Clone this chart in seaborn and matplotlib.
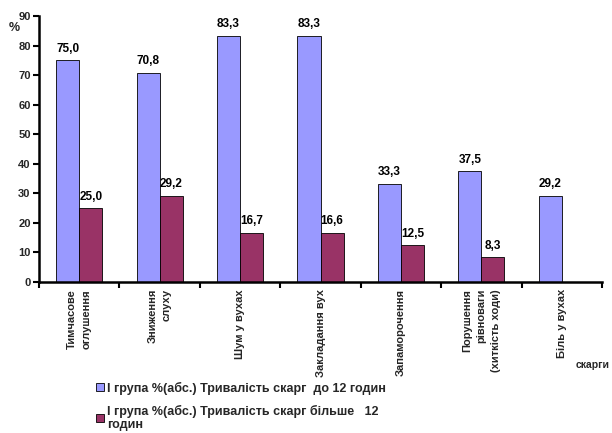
import numpy as np
import pandas as pd
import matplotlib
matplotlib.use("Agg")
import matplotlib.pyplot as plt
import seaborn as sns

categories = [
    "Тимчасове\nоглушення",
    "Зниження\nслуху",
    "Шум у вухах",
    "Закладання вух",
    "Запаморочення",
    "Порушення\nрівноваги\n(хиткість ходи)",
    "Біль у вухах",
]
series_names = [
    "І група %(абс.) Тривалість скарг  до 12 годин",
    "І група %(абс.) Тривалість скарг більше   12\nгодин",
]
short_group = [75.0, 70.8, 83.3, 83.3, 33.3, 37.5, 29.2]
long_group = [25.0, 29.2, 16.7, 16.6, 12.5, 8.3, np.nan]
y_ticks = list(range(0, 91, 10))
colors = ["#9999FF", "#993366"]

df = pd.DataFrame({
    "cat": categories * 2,
    "val": short_group + long_group,
    "group": [series_names[0]] * len(categories) + [series_names[1]] * len(categories),
})

sns.set_theme(style="white")
plt.rcParams["font.family"] = ["Liberation Sans", "DejaVu Sans"]
plt.rcParams["font.weight"] = "bold"

fig = plt.figure(figsize=(6.12, 4.33), dpi=100)
ax = fig.add_axes([0.0637, 0.3487, 0.92, 0.6143])

sns.barplot(data=df, x="cat", y="val", hue="group", order=categories,
            hue_order=series_names, palette=colors, width=0.575,
            edgecolor="black", linewidth=0.6, saturation=1, ax=ax)

for cont in ax.containers:
    labels = []
    for bar in cont:
        h = bar.get_height()
        labels.append("" if np.isnan(h) else f"{h:.1f}".replace(".", ","))
    ax.bar_label(cont, labels=labels, padding=4, fontsize=8.5,
                 fontweight="bold", color="black")

ax.set_ylim(0, 90)
ax.set_xlim(-0.5, len(categories) - 0.5)
ax.set_yticks(y_ticks)
ax.set_yticklabels([str(t) for t in y_ticks], fontsize=8, fontweight="bold")
ax.set_xticks(range(len(categories)))
ax.set_xticklabels(categories, rotation=90, va="top", ha="center",
                   multialignment="right", fontsize=8, fontweight="bold",
                   linespacing=1.55)
ax.set_xticks(np.arange(-0.5, len(categories)), minor=True)
ax.tick_params(axis="x", which="major", length=0, pad=5)
ax.tick_params(axis="x", which="minor", length=4, width=1.5, color="black",
               direction="out", bottom=True)
ax.tick_params(axis="y", length=4, width=1.5, color="black", direction="out",
               left=True, pad=2)
ax.set_xlabel("")
ax.set_ylabel("")
for side in ["top", "right"]:
    ax.spines[side].set_visible(False)
for side in ["left", "bottom"]:
    ax.spines[side].set_color("black")
    ax.spines[side].set_linewidth(1.8)

fig.text(0.023, 0.935, "%", fontsize=9, fontweight="bold", ha="center", va="center")
fig.text(0.996, 0.157, "скарги", fontsize=7.5, fontweight="bold", ha="right", va="center")

handles, labels = ax.get_legend_handles_labels()
ax.legend(handles, labels, loc="upper left", bbox_to_anchor=(0.157, 0.119),
          bbox_transform=fig.transFigure, frameon=False, fontsize=9,
          handlelength=0.65, handleheight=0.65, handletextpad=0.2,
          labelspacing=0.85, borderaxespad=0, borderpad=0)
for t in ax.get_legend().get_texts():
    t.set_fontweight("bold")
    t.set_linespacing(1.1)

fig.savefig("out.png", dpi=100)
